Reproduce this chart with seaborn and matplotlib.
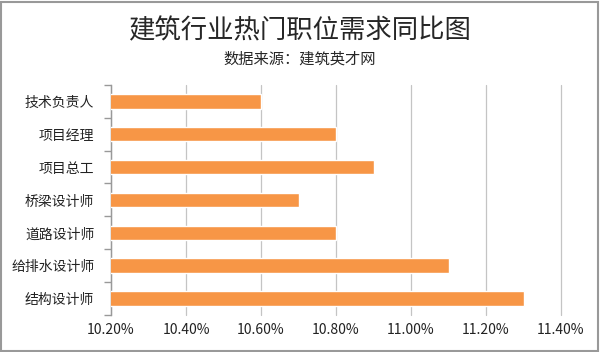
import pandas as pd
import numpy as np
import matplotlib
matplotlib.use("Agg")
import matplotlib.pyplot as plt
import seaborn as sns
from matplotlib.ticker import FuncFormatter, FixedLocator

# 数据
zhiwei = ['技术负责人', '项目经理', '项目总工', '桥梁设计师', '道路设计师', '给排水设计师', '结构设计师']
tongbi = [10.6, 10.8, 10.9, 10.7, 10.8, 11.1, 11.3]

df = pd.DataFrame({'职位': zhiwei, '同比': tongbi})

sns.set_theme(style='white')
plt.rcParams['font.family'] = ['Noto Sans CJK SC', 'DejaVu Sans']

fig = plt.figure(figsize=(6, 3.52), dpi=100)
ax = fig.add_axes([0.185, 0.105, 0.75, 0.654])

sns.barplot(data=df, x='同比', y='职位', orient='h', color='#F79646',
            saturation=1, width=0.44, ax=ax, zorder=3)

ax.set_xlim(10.2, 11.4)
ax.set_xticks(np.arange(10.2, 11.41, 0.2))
ax.xaxis.set_major_formatter(FuncFormatter(lambda v, p: f'{v:.2f}%'))
ax.grid(axis='x', color='#C4C4C4', linewidth=0.9, zorder=0)
for gl in ax.get_xgridlines():
    gl.set_clip_on(False)
ax.set_xlabel('')
ax.set_ylabel('')

for s in ['top', 'right', 'bottom']:
    ax.spines[s].set_visible(False)
ax.spines['left'].set_color('#999999')
ax.spines['left'].set_linewidth(1)

ax.yaxis.set_minor_locator(FixedLocator(np.arange(-0.5, len(zhiwei), 1)))
ax.tick_params(axis='y', which='major', length=0, labelsize=10, colors='#222222', pad=12)
ax.tick_params(axis='y', which='minor', length=5, color='#999999', left=True)
ax.tick_params(axis='x', length=0, labelsize=10, colors='#222222', pad=6)

fig.text(0.5, 0.912, '建筑行业热门职位需求同比图', ha='center', va='center', fontsize=19)
fig.text(0.5, 0.832, '数据来源：建筑英才网', ha='center', va='center', fontsize=11)

# 外框
fig.patches.append(plt.Rectangle((0.002, 0.003), 0.995, 0.992, transform=fig.transFigure,
                                 fill=False, edgecolor='#999999', linewidth=1.5))

fig.savefig('out.png', dpi=100)
